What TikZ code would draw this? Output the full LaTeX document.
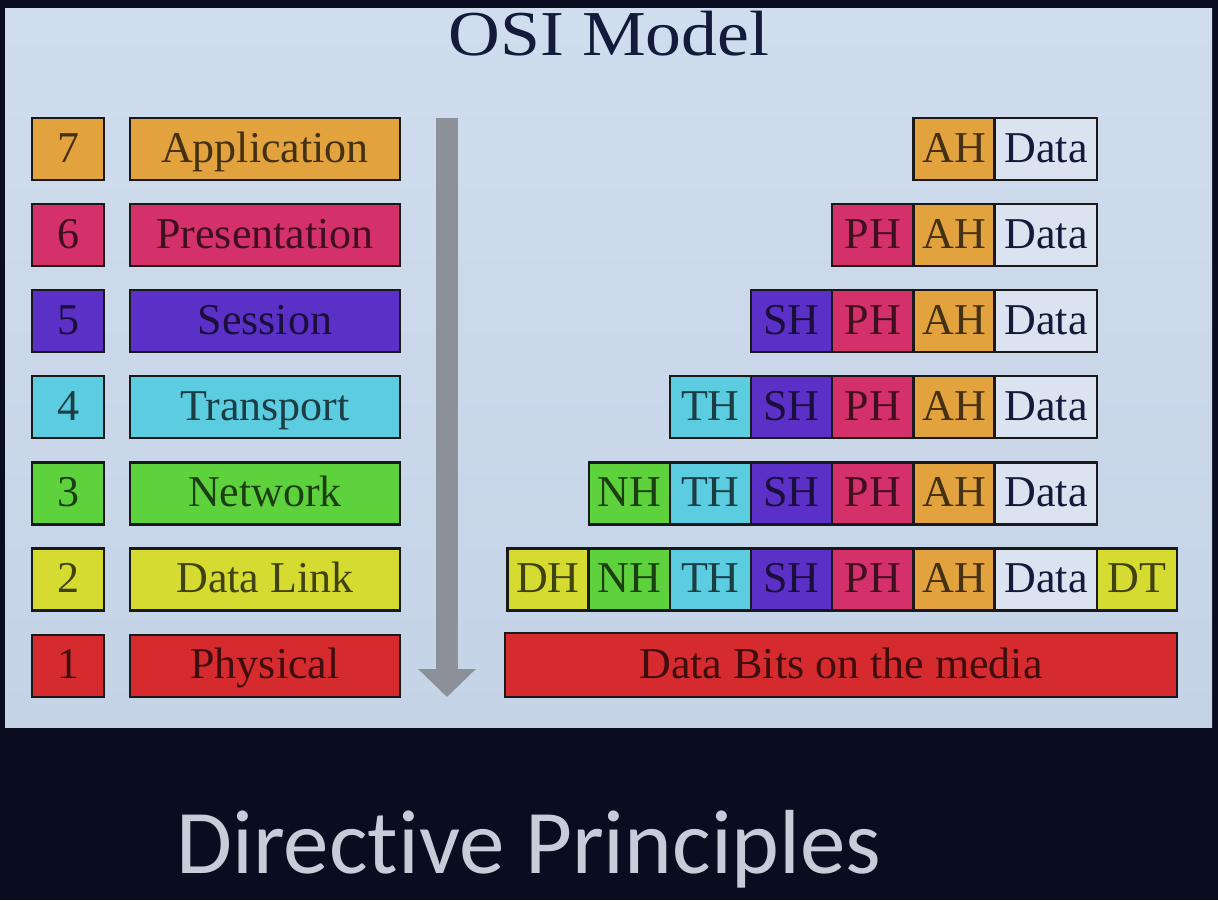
\documentclass[tikz,border=0pt]{standalone}
\usepackage{fontspec}
\setmainfont{Liberation Serif}
\newfontfamily\slidefont[Ligatures={NoCommon}]{Carlito}
\usetikzlibrary{arrows.meta}

\definecolor{slidebg}{HTML}{0A0D1F}
\definecolor{panelTop}{HTML}{D0DDEE}
\definecolor{panelBot}{HTML}{C4D3E6}
\definecolor{titleInk}{HTML}{141A3A}
\definecolor{cApp}{HTML}{E2A23E}
\definecolor{cPre}{HTML}{D4306A}
\definecolor{cSes}{HTML}{5A30C6}
\definecolor{cTra}{HTML}{5CCDE0}
\definecolor{cNet}{HTML}{5ED23C}
\definecolor{cDat}{HTML}{D6DB32}
\definecolor{cPhy}{HTML}{D62B2E}
\definecolor{cPay}{HTML}{DCE3F0}
\definecolor{arrowGray}{HTML}{8B9099}
\definecolor{footInk}{HTML}{C6CDD9}

\begin{document}
\begin{tikzpicture}[x=1pt, y=-1pt,
    box/.style={draw=black!90, line width=2.2pt, inner sep=0pt, minimum height=62pt,
                font=\fontsize{44}{44}\selectfont, text height=30pt, text depth=4pt},
    numbox/.style={box, minimum width=72pt},
    layerbox/.style={box, minimum width=270pt},
    cell/.style={box, minimum width=81pt}]
    \useasboundingbox (0,0) rectangle (1218,900);
    \fill[slidebg] (0,0) rectangle (1218,900);
    \shade[top color=panelTop, bottom color=panelBot] (5,8) rectangle (1212,727);

    \node[text=titleInk, font=\fontsize{64}{64}\selectfont, xscale=1.12, anchor=base] (title) at (609,55) {OSI Model};

    % layer stack on the left
    \foreach \n/\name/\col [count=\i from 0] in {7/Application/cApp, 6/Presentation/cPre,
        5/Session/cSes, 4/Transport/cTra, 3/Network/cNet, 2/Data Link/cDat, 1/Physical/cPhy}{
        \pgfmathsetmacro{\y}{149+86.1*\i}
        \node[numbox, fill=\col, text=\col!30!black] (num\n) at (68,\y) {\n};
        \node[layerbox, fill=\col, text=\col!30!black] (layer\n) at (265,\y) {\name};
    }

    % downward arrow
    \coordinate (arrtop) at (447,118);
    \coordinate (arrtip) at (447,697);
    \draw[arrowGray, line width=22pt, -{Triangle[width=56pt, length=28pt]}] (arrtop) -- (arrtip);

    % encapsulation rows
    \foreach \i in {0,...,5}{
        \pgfmathsetmacro{\y}{149+86.1*\i}
        \node[cell, minimum width=102pt, fill=cPay, text=titleInk] (data\i) at (1046,\y) {Data};
        \foreach \h/\col [count=\j from 0] in {AH/cApp, PH/cPre, SH/cSes, TH/cTra, NH/cNet, DH/cDat}{
            \ifnum\j>\i\else
                \node[cell, fill=\col, text=\col!30!black] (\h\i) at ({954-81.2*\j},\y) {\h};
            \fi
        }
    }
    \node[cell, minimum width=80pt, fill=cDat, text=cDat!30!black] (DT) at (1137,579.5) {DT};

    \node[box, minimum width=672pt, minimum height=64pt, fill=cPhy, text=cPhy!30!black] (bits) at (841,665) {Data Bits on the media};

    \node[text=footInk, font=\slidefont\fontsize{91}{91}\selectfont, anchor=base] (footer) at (529,873) {Directive Principles};
\end{tikzpicture}
\end{document}
